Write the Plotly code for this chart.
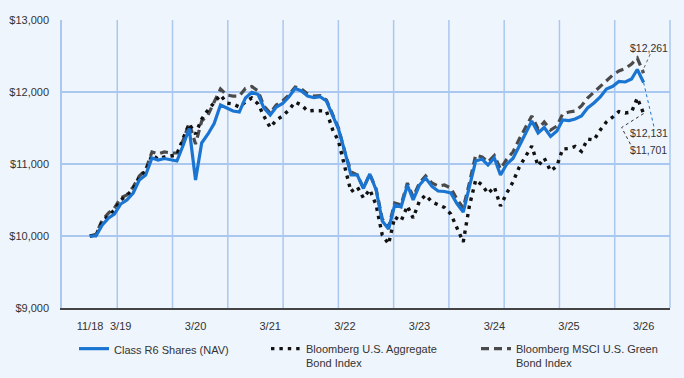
import pandas as pd
import plotly.graph_objects as go

# ---------------- data ----------------
dates = pd.date_range("2018-10-31", "2026-03-31", freq="ME")

class_r6 = [
    10000, 10000, 10153, 10250, 10305, 10444, 10500, 10597, 10778, 10847,
    11083, 11056, 11076, 11056, 11042, 11264, 11493, 10778, 11292, 11417,
    11562, 11819, 11771, 11736, 11722, 11917, 11996, 11965, 11778, 11681,
    11792, 11840, 11931, 12049, 12014, 11944, 11921, 11935, 11875, 11681,
    11486, 11171, 10847, 10847, 10660, 10861, 10639, 10208, 10097, 10431,
    10403, 10708, 10500, 10708, 10806, 10688, 10625, 10618, 10597, 10451,
    10333, 10681, 11042, 11069, 10986, 11083, 10847, 11000, 11076, 11250,
    11431, 11597, 11431, 11507, 11382, 11458, 11611, 11604, 11625, 11667,
    11778, 11847, 11931, 12042, 12079, 12146, 12139, 12181, 12312, 12131,
]

us_aggregate = [
    10000, 10010, 10200, 10290, 10360, 10500, 10560, 10660, 10820, 10900,
    11125, 11069, 11097, 11111, 11125, 11361, 11556, 11417, 11625, 11750,
    11847, 11958, 11847, 11833, 11792, 11861, 11917, 11833, 11667, 11507,
    11611, 11667, 11750, 11861, 11819, 11736, 11743, 11743, 11736, 11472,
    11319, 10958, 10615, 10681, 10528, 10646, 10431, 10014, 9889, 10264,
    10208, 10417, 10250, 10486, 10569, 10472, 10431, 10396, 10306, 10111,
    9917, 10417, 10778, 10708, 10590, 10681, 10417, 10597, 10750, 10958,
    11111, 11250, 10972, 11083, 10903, 10972, 11208, 11215, 11243, 11174,
    11347, 11333, 11472, 11583, 11653, 11729, 11708, 11722, 11917, 11701,
]

green_bond = [
    10000, 10023, 10222, 10320, 10389, 10528, 10569, 10681, 10833, 10917,
    11167, 11139, 11167, 11153, 11153, 11333, 11569, 11278, 11597, 11681,
    11861, 12042, 11958, 11944, 11944, 12049, 12076, 12014, 11806, 11708,
    11819, 11875, 11958, 12069, 12042, 11972, 11944, 11951, 11889, 11694,
    11500, 11167, 10889, 10847, 10667, 10861, 10653, 10236, 10125, 10458,
    10431, 10736, 10542, 10736, 10833, 10736, 10694, 10708, 10667, 10514,
    10389, 10736, 11125, 11097, 11028, 11118, 10931, 11069, 11167, 11347,
    11500, 11667, 11486, 11583, 11472, 11528, 11694, 11722, 11736, 11806,
    11917, 12000, 12076, 12167, 12236, 12292, 12326, 12389, 12472, 12261,
]

series_names = [
    "Class R6 Shares (NAV)",
    "Bloomberg U.S. Aggregate<br>Bond Index",
    "Bloomberg MSCI U.S. Green<br>Bond Index",
]

tick_dates = ["2018-11-01", "2019-03-31", "2020-03-31", "2021-03-31", "2022-03-31",
              "2023-03-31", "2024-03-31", "2025-03-31", "2026-03-31"]
tick_labels = ["11/18", "3/19", "3/20", "3/21", "3/22", "3/23", "3/24", "3/25", "3/26"]

y_ticks = [9000, 10000, 11000, 12000, 13000]
y_tick_labels = ["$9,000", "$10,000", "$11,000", "$12,000", "$13,000"]

# ---------------- styles ----------------
BG = "#eff5fc"
GRID = "#a9c7ef"
BLUE = "#1a74d2"
DARK = "#4a4a4a"
BLACK = "#111111"
TXT = "#333333"
FONT = "Liberation Sans, Arial, sans-serif"

fig = go.Figure()

fig.add_trace(go.Scatter(
    x=dates, y=green_bond, name=series_names[2], mode="lines",
    line=dict(color=DARK, width=3.2, dash="8px,5px"), legend="legend3",
))
fig.add_trace(go.Scatter(
    x=dates, y=us_aggregate, name=series_names[1], mode="lines",
    line=dict(color=BLACK, width=3.4, dash="3.4px,5px"), legend="legend2",
))
fig.add_trace(go.Scatter(
    x=dates, y=class_r6, name=series_names[0], mode="lines",
    line=dict(color=BLUE, width=3.2), legend="legend",
))

# vertical grid (11 equal divisions of the plot area) + right border
shapes = []
for i in range(1, 12):
    shapes.append(dict(type="line", xref="paper", yref="paper", x0=i / 11, x1=i / 11,
                       y0=0, y1=1, line=dict(color=GRID, width=1.5), layer="below"))

# leader lines to end labels
last = dates[-1]
shapes.append(dict(type="line", xref="x", yref="y", xsizemode="pixel", ysizemode="pixel",
                   xanchor=last, yanchor=green_bond[-1], x0=-2, y0=0, x1=7, y1=20,
                   line=dict(color="#666666", width=1, dash="dot")))
shapes.append(dict(type="line", xref="x", yref="y", xsizemode="pixel", ysizemode="pixel",
                   xanchor=last, yanchor=class_r6[-1], x0=0, y0=0, x1=11, y1=-47,
                   line=dict(color=BLUE, width=1, dash="dot")))
shapes.append(dict(type="path", xref="x", yref="y", xsizemode="pixel", ysizemode="pixel",
                   xanchor=last, yanchor=us_aggregate[-1],
                   path="M0,0 L-22,-14 L-13,-31",
                   line=dict(color="#333333", width=1, dash="dot")))

annotations = []
for val, dy in [(green_bond[-1], 25), (class_r6[-1], -50), (us_aggregate[-1], -36)]:
    annotations.append(dict(x=last, y=val, xref="x", yref="y", text=f"${val:,.0f}",
                            showarrow=False, xshift=5, yshift=dy,
                            font=dict(family=FONT, size=10.5, color=TXT)))

legend_common = dict(orientation="h", xref="container", yref="container",
                     xanchor="left", yanchor="top", valign="top",
                     bgcolor="rgba(0,0,0,0)",
                     font=dict(family=FONT, size=11, color=TXT), tracegroupgap=0)

LEG_Y = 1 - 335 / 378
fig.update_layout(
    width=684, height=378,
    margin=dict(l=62, r=14, t=20, b=70, autoexpand=False),
    paper_bgcolor=BG, plot_bgcolor=BG,
    font=dict(family=FONT, size=11, color=TXT),
    showlegend=True,
    legend=dict(x=74 / 684, y=LEG_Y, **legend_common),
    legend2=dict(x=266 / 684, y=LEG_Y, **legend_common),
    legend3=dict(x=476 / 684, y=LEG_Y, **legend_common),
    shapes=shapes,
    annotations=annotations,
    xaxis=dict(
        type="date", range=["2018-06-17", "2026-08-07"],
        tickvals=tick_dates, ticktext=tick_labels,
        showgrid=False, zeroline=False,
        showline=True, linecolor="#444444", linewidth=1.5,
        ticks="", ticklabelstandoff=7,
        tickfont=dict(family=FONT, size=11, color=TXT),
    ),
    yaxis=dict(
        range=[9000, 13000], tickvals=y_ticks, ticktext=y_tick_labels,
        showgrid=True, gridcolor=GRID, gridwidth=1.5, zeroline=False,
        showline=True, linecolor=GRID, linewidth=1.5,
        ticks="", ticklabelstandoff=9,
        tickfont=dict(family=FONT, size=11, color=TXT),
    ),
)

fig.write_html("out.html")
